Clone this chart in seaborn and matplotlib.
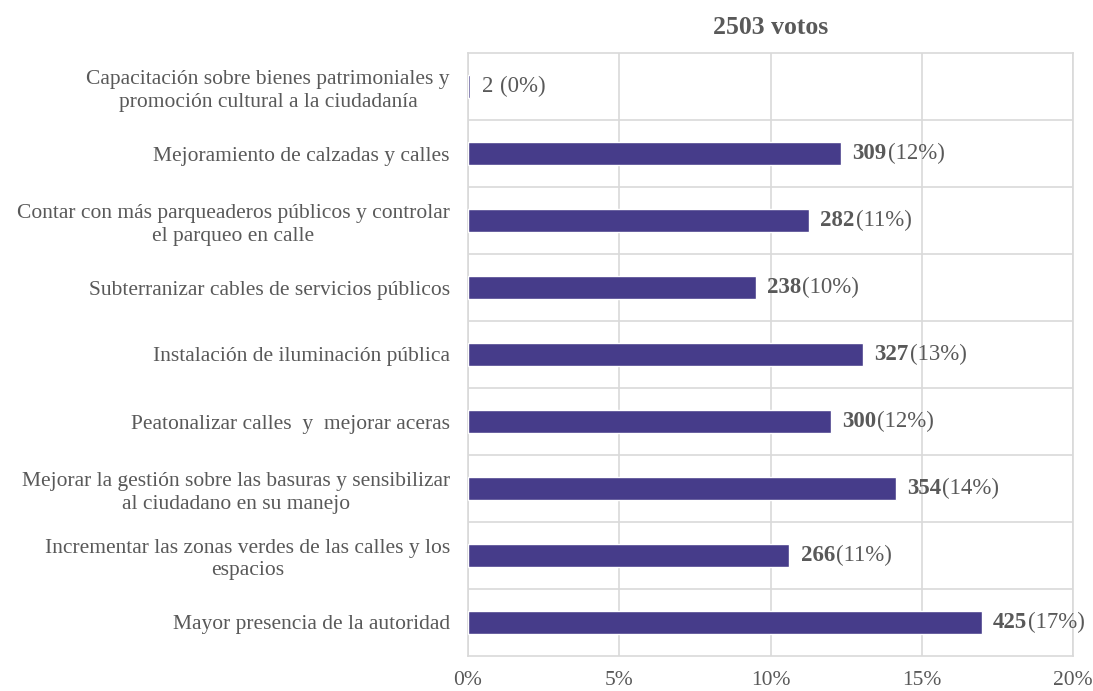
import matplotlib
matplotlib.use("Agg")
import matplotlib.pyplot as plt
import seaborn as sns
import pandas as pd

categorias = [
    "Capacitación sobre bienes patrimoniales y\npromoción cultural a la ciudadanía",
    "Mejoramiento de calzadas y calles",
    "Contar con más parqueaderos públicos y controlar\nel parqueo en calle",
    "Subterranizar cables de servicios públicos",
    "Instalación de iluminación pública",
    "Peatonalizar calles  y  mejorar aceras",
    "Mejorar la gestión sobre las basuras y sensibilizar\nal ciudadano en su manejo",
    "Incrementar las zonas verdes de las calles y los\nespacios",
    "Mayor presencia de la autoridad",
]
votos = [2, 309, 282, 238, 327, 300, 354, 266, 425]
etiquetas_pct = ["(0%)", "(12%)", "(11%)", "(10%)", "(13%)", "(12%)", "(14%)", "(11%)", "(17%)"]
total_votos = 2503
ticks_x = [0, 5, 10, 15, 20]

sns.set_theme(style="white")
plt.rcParams["font.family"] = ["Liberation Serif", "DejaVu Serif"]

gris_texto = "#595959"
gris_grid = "#d9d9d9"
color_barra = "#463c8a"

df = pd.DataFrame({"categoria": categorias, "votos": votos})
df["pct"] = df["votos"] / total_votos * 100

fig = plt.figure(figsize=(10.93, 6.91), dpi=100)
ax = fig.add_axes([468 / 1093, 1 - 656 / 691, (1073 - 468) / 1093, (656 - 53) / 691])

sns.barplot(data=df, x="pct", y="categoria", orient="h", color=color_barra,
            width=0.35, saturation=1, ax=ax, zorder=3)

ax.set_xlim(0, 20)
ax.set_ylim(len(categorias) - 0.5, -0.5)
ax.set_xticks(ticks_x)
ax.set_xticklabels([f"{t}%" for t in ticks_x])
ax.set_yticks(range(len(categorias)), minor=False)
ax.set_yticks([i + 0.5 for i in range(len(categorias) - 1)], minor=True)
ax.set_xlabel("")
ax.set_ylabel("")

ax.grid(axis="x", which="major", color=gris_grid, linewidth=1.2, zorder=0)
ax.grid(axis="y", which="minor", color=gris_grid, linewidth=1.2, zorder=0)
ax.tick_params(axis="both", which="both", length=0, colors=gris_texto, labelsize=15.5)
ax.tick_params(axis="x", pad=11)
ax.tick_params(axis="y", pad=13)
for lbl in ax.get_yticklabels():
    lbl.set_multialignment("center")
    lbl.set_linespacing(1.25)
for s in ax.spines.values():
    s.set_color(gris_grid)
    s.set_linewidth(1.2)

for i, (v, p, txt) in enumerate(zip(votos, df["pct"], etiquetas_pct)):
    if v < 10:
        t1 = ax.annotate(f"{v} ", xy=(p, i), xytext=(8, 0), textcoords="offset points",
                         va="center", ha="left", fontsize=16.5, color=gris_texto)
    else:
        t1 = ax.annotate(f"{v}", xy=(p, i), xytext=(8, 0), textcoords="offset points",
                         va="center", ha="left", fontsize=16.5, color=gris_texto,
                         fontweight="bold")
    ax.annotate(txt, xy=(1, 0.5), xycoords=t1, xytext=(1, 0), textcoords="offset points",
                va="center", ha="left", fontsize=16.5, color=gris_texto)

ax.set_title("2503 votos", fontsize=18.5, fontweight="bold", color=gris_texto, pad=14)

fig.savefig("out.png", dpi=100)
